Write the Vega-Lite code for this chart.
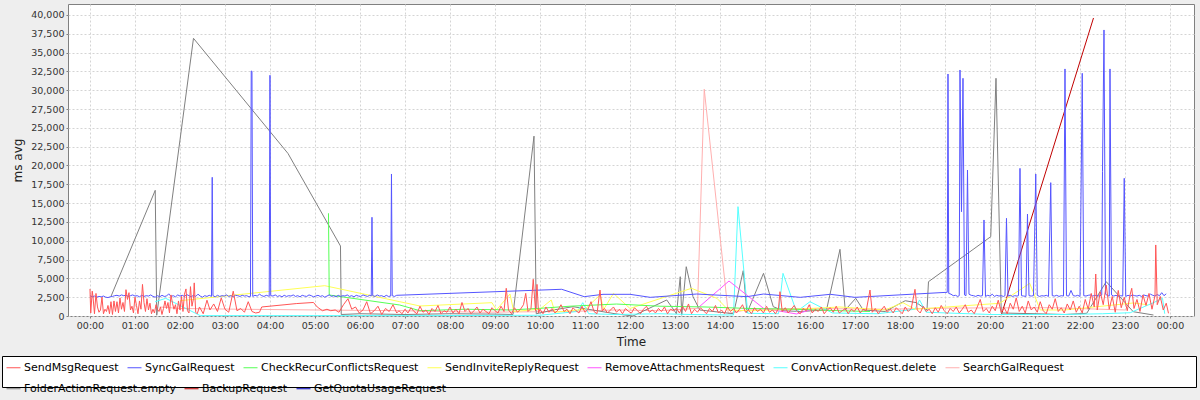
{
  "$schema": "https://vega.github.io/schema/vega-lite/v6.json",
  "width": 1126,
  "height": 312,
  "autosize": {"type": "none"},
  "padding": {"left": 68, "top": 4, "right": 6, "bottom": 84},
  "background": "#eeeeee",
  "config": {
    "font": "DejaVu Sans",
    "view": {"fill": "white", "stroke": "#808080", "strokeWidth": 1},
    "axis": {
      "domain": false,
      "tickSize": 2,
      "tickColor": "#808080",
      "labelFontSize": 9.5,
      "labelColor": "#333333",
      "labelPadding": 2,
      "gridColor": "#d4d4d4",
      "gridDash": [2, 2],
      "titleFontSize": 12,
      "titleFontWeight": "normal",
      "titleColor": "#222222"
    },
    "line": {"strokeWidth": 1}
  },
  "data": {"values": [
    {"s":"SendMsgRequest","t":0,"v":3600},{"s":"SendMsgRequest","t":1,"v":400},{"s":"SendMsgRequest","t":3,"v":3300},{"s":"SendMsgRequest","t":4,"v":2600},{"s":"SendMsgRequest","t":6,"v":300},{"s":"SendMsgRequest","t":8,"v":3000},{"s":"SendMsgRequest","t":10,"v":1200},{"s":"SendMsgRequest","t":12,"v":500},{"s":"SendMsgRequest","t":14,"v":800},{"s":"SendMsgRequest","t":16,"v":2500},{"s":"SendMsgRequest","t":18,"v":300},{"s":"SendMsgRequest","t":20,"v":900},{"s":"SendMsgRequest","t":22,"v":600},{"s":"SendMsgRequest","t":24,"v":1400},{"s":"SendMsgRequest","t":26,"v":300},{"s":"SendMsgRequest","t":28,"v":1900},{"s":"SendMsgRequest","t":30,"v":200},{"s":"SendMsgRequest","t":32,"v":2000},{"s":"SendMsgRequest","t":34,"v":600},{"s":"SendMsgRequest","t":36,"v":1900},{"s":"SendMsgRequest","t":38,"v":400},{"s":"SendMsgRequest","t":40,"v":2400},{"s":"SendMsgRequest","t":42,"v":900},{"s":"SendMsgRequest","t":44,"v":1800},{"s":"SendMsgRequest","t":46,"v":600},{"s":"SendMsgRequest","t":48,"v":3500},{"s":"SendMsgRequest","t":50,"v":2200},{"s":"SendMsgRequest","t":52,"v":3100},{"s":"SendMsgRequest","t":54,"v":800},{"s":"SendMsgRequest","t":56,"v":1300},{"s":"SendMsgRequest","t":58,"v":400},{"s":"SendMsgRequest","t":60,"v":2500},{"s":"SendMsgRequest","t":62,"v":1400},{"s":"SendMsgRequest","t":64,"v":300},{"s":"SendMsgRequest","t":66,"v":2000},{"s":"SendMsgRequest","t":68,"v":900},{"s":"SendMsgRequest","t":70,"v":4200},{"s":"SendMsgRequest","t":72,"v":1800},{"s":"SendMsgRequest","t":74,"v":600},{"s":"SendMsgRequest","t":76,"v":2300},{"s":"SendMsgRequest","t":78,"v":800},{"s":"SendMsgRequest","t":80,"v":1700},{"s":"SendMsgRequest","t":82,"v":300},{"s":"SendMsgRequest","t":84,"v":900},{"s":"SendMsgRequest","t":86,"v":400},{"s":"SendMsgRequest","t":88,"v":1500},{"s":"SendMsgRequest","t":90,"v":900},{"s":"SendMsgRequest","t":92,"v":600},{"s":"SendMsgRequest","t":94,"v":1200},{"s":"SendMsgRequest","t":96,"v":200},{"s":"SendMsgRequest","t":98,"v":1000},{"s":"SendMsgRequest","t":100,"v":2000},{"s":"SendMsgRequest","t":102,"v":1000},{"s":"SendMsgRequest","t":104,"v":1800},{"s":"SendMsgRequest","t":106,"v":400},{"s":"SendMsgRequest","t":108,"v":2800},{"s":"SendMsgRequest","t":110,"v":1700},{"s":"SendMsgRequest","t":112,"v":900},{"s":"SendMsgRequest","t":114,"v":1500},{"s":"SendMsgRequest","t":116,"v":300},{"s":"SendMsgRequest","t":118,"v":2000},{"s":"SendMsgRequest","t":120,"v":800},{"s":"SendMsgRequest","t":122,"v":2600},{"s":"SendMsgRequest","t":124,"v":600},{"s":"SendMsgRequest","t":126,"v":2900},{"s":"SendMsgRequest","t":128,"v":3600},{"s":"SendMsgRequest","t":130,"v":700},{"s":"SendMsgRequest","t":132,"v":400},{"s":"SendMsgRequest","t":134,"v":3900},{"s":"SendMsgRequest","t":136,"v":1300},{"s":"SendMsgRequest","t":138,"v":2300},{"s":"SendMsgRequest","t":139,"v":4400},{"s":"SendMsgRequest","t":141,"v":500},{"s":"SendMsgRequest","t":143,"v":300},{"s":"SendMsgRequest","t":146,"v":1200},
    {"s":"SendMsgRequest","t":151,"v":300},{"s":"SendMsgRequest","t":156,"v":2100},{"s":"SendMsgRequest","t":160,"v":800},{"s":"SendMsgRequest","t":165,"v":1600},{"s":"SendMsgRequest","t":170,"v":600},{"s":"SendMsgRequest","t":175,"v":2400},{"s":"SendMsgRequest","t":180,"v":900},{"s":"SendMsgRequest","t":185,"v":500},{"s":"SendMsgRequest","t":191,"v":3300},{"s":"SendMsgRequest","t":196,"v":700},{"s":"SendMsgRequest","t":201,"v":1000},{"s":"SendMsgRequest","t":206,"v":500},{"s":"SendMsgRequest","t":211,"v":1900},{"s":"SendMsgRequest","t":216,"v":600},{"s":"SendMsgRequest","t":221,"v":400},{"s":"SendMsgRequest","t":226,"v":500},{"s":"SendMsgRequest","t":229,"v":1200},{"s":"SendMsgRequest","t":260,"v":1500},{"s":"SendMsgRequest","t":275,"v":1650},{"s":"SendMsgRequest","t":298,"v":1800},{"s":"SendMsgRequest","t":303,"v":1200},{"s":"SendMsgRequest","t":310,"v":700},{"s":"SendMsgRequest","t":316,"v":900},{"s":"SendMsgRequest","t":321,"v":700},{"s":"SendMsgRequest","t":327,"v":800},{"s":"SendMsgRequest","t":332,"v":500},{"s":"SendMsgRequest","t":338,"v":1500},{"s":"SendMsgRequest","t":344,"v":2300},{"s":"SendMsgRequest","t":349,"v":900},{"s":"SendMsgRequest","t":354,"v":1200},{"s":"SendMsgRequest","t":359,"v":400},{"s":"SendMsgRequest","t":364,"v":800},{"s":"SendMsgRequest","t":369,"v":1900},{"s":"SendMsgRequest","t":374,"v":300},{"s":"SendMsgRequest","t":379,"v":700},{"s":"SendMsgRequest","t":384,"v":1300},{"s":"SendMsgRequest","t":389,"v":200},{"s":"SendMsgRequest","t":394,"v":1000},{"s":"SendMsgRequest","t":399,"v":600},{"s":"SendMsgRequest","t":404,"v":1500},{"s":"SendMsgRequest","t":409,"v":400},
    {"s":"SendMsgRequest","t":412,"v":700},{"s":"SendMsgRequest","t":416,"v":300},{"s":"SendMsgRequest","t":420,"v":900},{"s":"SendMsgRequest","t":424,"v":400},{"s":"SendMsgRequest","t":428,"v":1100},{"s":"SendMsgRequest","t":432,"v":600},{"s":"SendMsgRequest","t":436,"v":300},{"s":"SendMsgRequest","t":440,"v":1300},{"s":"SendMsgRequest","t":444,"v":500},{"s":"SendMsgRequest","t":448,"v":800},{"s":"SendMsgRequest","t":452,"v":200},{"s":"SendMsgRequest","t":456,"v":1000},{"s":"SendMsgRequest","t":460,"v":600},{"s":"SendMsgRequest","t":464,"v":1400},{"s":"SendMsgRequest","t":468,"v":300},{"s":"SendMsgRequest","t":472,"v":700},{"s":"SendMsgRequest","t":476,"v":500},
    {"s":"SendMsgRequest","t":480,"v":1200},{"s":"SendMsgRequest","t":484,"v":400},{"s":"SendMsgRequest","t":488,"v":900},{"s":"SendMsgRequest","t":492,"v":300},{"s":"SendMsgRequest","t":496,"v":1800},{"s":"SendMsgRequest","t":500,"v":600},{"s":"SendMsgRequest","t":504,"v":1000},{"s":"SendMsgRequest","t":508,"v":300},{"s":"SendMsgRequest","t":512,"v":700},{"s":"SendMsgRequest","t":516,"v":1200},{"s":"SendMsgRequest","t":520,"v":400},{"s":"SendMsgRequest","t":524,"v":900},{"s":"SendMsgRequest","t":528,"v":600},{"s":"SendMsgRequest","t":532,"v":300},{"s":"SendMsgRequest","t":536,"v":1100},
    {"s":"SendMsgRequest","t":540,"v":700},{"s":"SendMsgRequest","t":544,"v":400},{"s":"SendMsgRequest","t":548,"v":1300},{"s":"SendMsgRequest","t":552,"v":600},{"s":"SendMsgRequest","t":555,"v":3680},{"s":"SendMsgRequest","t":558,"v":800},{"s":"SendMsgRequest","t":562,"v":300},{"s":"SendMsgRequest","t":566,"v":1100},{"s":"SendMsgRequest","t":570,"v":500},{"s":"SendMsgRequest","t":574,"v":900},{"s":"SendMsgRequest","t":578,"v":1500},{"s":"SendMsgRequest","t":581,"v":3010},{"s":"SendMsgRequest","t":584,"v":600},{"s":"SendMsgRequest","t":588,"v":1000},{"s":"SendMsgRequest","t":591,"v":4880},{"s":"SendMsgRequest","t":594,"v":700},{"s":"SendMsgRequest","t":596,"v":4200},{"s":"SendMsgRequest","t":598,"v":400},
    {"s":"SendMsgRequest","t":600,"v":900},{"s":"SendMsgRequest","t":604,"v":300},{"s":"SendMsgRequest","t":608,"v":1200},{"s":"SendMsgRequest","t":612,"v":500},{"s":"SendMsgRequest","t":616,"v":1000},{"s":"SendMsgRequest","t":620,"v":400},{"s":"SendMsgRequest","t":624,"v":800},{"s":"SendMsgRequest","t":628,"v":1500},{"s":"SendMsgRequest","t":632,"v":600},{"s":"SendMsgRequest","t":636,"v":900},{"s":"SendMsgRequest","t":640,"v":300},{"s":"SendMsgRequest","t":644,"v":1100},{"s":"SendMsgRequest","t":648,"v":700},{"s":"SendMsgRequest","t":652,"v":400},{"s":"SendMsgRequest","t":656,"v":1300},
    {"s":"SendMsgRequest","t":660,"v":500},{"s":"SendMsgRequest","t":664,"v":900},{"s":"SendMsgRequest","t":668,"v":1900},{"s":"SendMsgRequest","t":672,"v":600},{"s":"SendMsgRequest","t":676,"v":300},{"s":"SendMsgRequest","t":680,"v":3450},{"s":"SendMsgRequest","t":683,"v":700},{"s":"SendMsgRequest","t":686,"v":1000},{"s":"SendMsgRequest","t":690,"v":400},{"s":"SendMsgRequest","t":694,"v":800},{"s":"SendMsgRequest","t":698,"v":1200},{"s":"SendMsgRequest","t":702,"v":500},{"s":"SendMsgRequest","t":706,"v":900},{"s":"SendMsgRequest","t":710,"v":300},{"s":"SendMsgRequest","t":714,"v":1000},{"s":"SendMsgRequest","t":718,"v":600},
    {"s":"SendMsgRequest","t":722,"v":400},{"s":"SendMsgRequest","t":726,"v":1100},{"s":"SendMsgRequest","t":730,"v":700},{"s":"SendMsgRequest","t":734,"v":300},{"s":"SendMsgRequest","t":738,"v":900},{"s":"SendMsgRequest","t":742,"v":1300},{"s":"SendMsgRequest","t":746,"v":500},{"s":"SendMsgRequest","t":750,"v":800},{"s":"SendMsgRequest","t":754,"v":400},{"s":"SendMsgRequest","t":758,"v":1000},{"s":"SendMsgRequest","t":762,"v":600},{"s":"SendMsgRequest","t":766,"v":1200},{"s":"SendMsgRequest","t":770,"v":300},{"s":"SendMsgRequest","t":774,"v":900},{"s":"SendMsgRequest","t":778,"v":700},
    {"s":"SendMsgRequest","t":782,"v":1000},{"s":"SendMsgRequest","t":786,"v":400},{"s":"SendMsgRequest","t":790,"v":1300},{"s":"SendMsgRequest","t":794,"v":600},{"s":"SendMsgRequest","t":798,"v":1600},{"s":"SendMsgRequest","t":802,"v":300},{"s":"SendMsgRequest","t":806,"v":900},{"s":"SendMsgRequest","t":810,"v":500},{"s":"SendMsgRequest","t":814,"v":1100},{"s":"SendMsgRequest","t":818,"v":700},{"s":"SendMsgRequest","t":822,"v":300},{"s":"SendMsgRequest","t":826,"v":1000},{"s":"SendMsgRequest","t":830,"v":600},{"s":"SendMsgRequest","t":834,"v":1400},{"s":"SendMsgRequest","t":838,"v":400},
    {"s":"SendMsgRequest","t":842,"v":800},{"s":"SendMsgRequest","t":846,"v":300},{"s":"SendMsgRequest","t":850,"v":1200},{"s":"SendMsgRequest","t":854,"v":600},{"s":"SendMsgRequest","t":858,"v":1000},{"s":"SendMsgRequest","t":862,"v":400},{"s":"SendMsgRequest","t":866,"v":900},{"s":"SendMsgRequest","t":870,"v":1500},{"s":"SendMsgRequest","t":874,"v":500},{"s":"SendMsgRequest","t":878,"v":800},{"s":"SendMsgRequest","t":882,"v":300},{"s":"SendMsgRequest","t":886,"v":1100},{"s":"SendMsgRequest","t":890,"v":600},{"s":"SendMsgRequest","t":894,"v":900},{"s":"SendMsgRequest","t":898,"v":400},
    {"s":"SendMsgRequest","t":902,"v":1300},{"s":"SendMsgRequest","t":906,"v":500},{"s":"SendMsgRequest","t":910,"v":800},{"s":"SendMsgRequest","t":914,"v":300},{"s":"SendMsgRequest","t":918,"v":1000},{"s":"SendMsgRequest","t":920,"v":3230},{"s":"SendMsgRequest","t":923,"v":600},{"s":"SendMsgRequest","t":927,"v":1100},{"s":"SendMsgRequest","t":931,"v":400},{"s":"SendMsgRequest","t":935,"v":900},{"s":"SendMsgRequest","t":939,"v":1400},{"s":"SendMsgRequest","t":943,"v":600},{"s":"SendMsgRequest","t":947,"v":300},{"s":"SendMsgRequest","t":951,"v":1000},{"s":"SendMsgRequest","t":955,"v":700},
    {"s":"SendMsgRequest","t":959,"v":1500},{"s":"SendMsgRequest","t":963,"v":400},{"s":"SendMsgRequest","t":967,"v":900},{"s":"SendMsgRequest","t":971,"v":600},{"s":"SendMsgRequest","t":975,"v":1200},{"s":"SendMsgRequest","t":979,"v":300},{"s":"SendMsgRequest","t":983,"v":800},{"s":"SendMsgRequest","t":987,"v":1100},{"s":"SendMsgRequest","t":991,"v":500},{"s":"SendMsgRequest","t":995,"v":1300},{"s":"SendMsgRequest","t":999,"v":400},{"s":"SendMsgRequest","t":1003,"v":700},{"s":"SendMsgRequest","t":1007,"v":1000},{"s":"SendMsgRequest","t":1011,"v":300},{"s":"SendMsgRequest","t":1015,"v":900},
    {"s":"SendMsgRequest","t":1019,"v":600},{"s":"SendMsgRequest","t":1023,"v":1200},{"s":"SendMsgRequest","t":1027,"v":400},{"s":"SendMsgRequest","t":1031,"v":900},{"s":"SendMsgRequest","t":1035,"v":700},{"s":"SendMsgRequest","t":1040,"v":3450},{"s":"SendMsgRequest","t":1043,"v":500},{"s":"SendMsgRequest","t":1047,"v":1000},{"s":"SendMsgRequest","t":1051,"v":300},{"s":"SendMsgRequest","t":1055,"v":800},{"s":"SendMsgRequest","t":1059,"v":1300},{"s":"SendMsgRequest","t":1063,"v":500},{"s":"SendMsgRequest","t":1067,"v":900},{"s":"SendMsgRequest","t":1071,"v":400},{"s":"SendMsgRequest","t":1075,"v":1100},
    {"s":"SendMsgRequest","t":1079,"v":700},{"s":"SendMsgRequest","t":1083,"v":300},{"s":"SendMsgRequest","t":1087,"v":1200},{"s":"SendMsgRequest","t":1091,"v":600},{"s":"SendMsgRequest","t":1095,"v":1000},{"s":"SendMsgRequest","t":1100,"v":3550},{"s":"SendMsgRequest","t":1103,"v":800},{"s":"SendMsgRequest","t":1107,"v":400},{"s":"SendMsgRequest","t":1111,"v":1300},{"s":"SendMsgRequest","t":1115,"v":600},{"s":"SendMsgRequest","t":1119,"v":900},{"s":"SendMsgRequest","t":1123,"v":300},{"s":"SendMsgRequest","t":1127,"v":1100},{"s":"SendMsgRequest","t":1131,"v":500},{"s":"SendMsgRequest","t":1135,"v":1400},
    {"s":"SendMsgRequest","t":1139,"v":700},{"s":"SendMsgRequest","t":1143,"v":300},{"s":"SendMsgRequest","t":1147,"v":1000},{"s":"SendMsgRequest","t":1151,"v":600},{"s":"SendMsgRequest","t":1155,"v":1200},{"s":"SendMsgRequest","t":1159,"v":400},{"s":"SendMsgRequest","t":1163,"v":900},{"s":"SendMsgRequest","t":1167,"v":1500},{"s":"SendMsgRequest","t":1171,"v":500},{"s":"SendMsgRequest","t":1175,"v":800},{"s":"SendMsgRequest","t":1179,"v":300},{"s":"SendMsgRequest","t":1183,"v":1200},{"s":"SendMsgRequest","t":1187,"v":2200},{"s":"SendMsgRequest","t":1191,"v":600},{"s":"SendMsgRequest","t":1195,"v":1000},
    {"s":"SendMsgRequest","t":1199,"v":400},{"s":"SendMsgRequest","t":1203,"v":1300},{"s":"SendMsgRequest","t":1207,"v":700},{"s":"SendMsgRequest","t":1211,"v":2100},{"s":"SendMsgRequest","t":1215,"v":500},{"s":"SendMsgRequest","t":1219,"v":1100},{"s":"SendMsgRequest","t":1223,"v":300},{"s":"SendMsgRequest","t":1227,"v":1700},{"s":"SendMsgRequest","t":1231,"v":900},{"s":"SendMsgRequest","t":1235,"v":2400},{"s":"SendMsgRequest","t":1239,"v":600},{"s":"SendMsgRequest","t":1243,"v":1300},{"s":"SendMsgRequest","t":1247,"v":400},{"s":"SendMsgRequest","t":1251,"v":2000},{"s":"SendMsgRequest","t":1255,"v":800},
    {"s":"SendMsgRequest","t":1259,"v":1200},{"s":"SendMsgRequest","t":1263,"v":500},{"s":"SendMsgRequest","t":1267,"v":1900},{"s":"SendMsgRequest","t":1271,"v":700},{"s":"SendMsgRequest","t":1275,"v":300},{"s":"SendMsgRequest","t":1279,"v":1500},{"s":"SendMsgRequest","t":1283,"v":900},{"s":"SendMsgRequest","t":1287,"v":2300},{"s":"SendMsgRequest","t":1291,"v":600},{"s":"SendMsgRequest","t":1295,"v":1100},{"s":"SendMsgRequest","t":1299,"v":400},{"s":"SendMsgRequest","t":1303,"v":1600},{"s":"SendMsgRequest","t":1307,"v":800},{"s":"SendMsgRequest","t":1311,"v":2000},{"s":"SendMsgRequest","t":1315,"v":500},
    {"s":"SendMsgRequest","t":1319,"v":1300},{"s":"SendMsgRequest","t":1323,"v":400},{"s":"SendMsgRequest","t":1327,"v":2200},{"s":"SendMsgRequest","t":1331,"v":900},{"s":"SendMsgRequest","t":1335,"v":3000},{"s":"SendMsgRequest","t":1339,"v":1200},{"s":"SendMsgRequest","t":1341,"v":5580},{"s":"SendMsgRequest","t":1343,"v":800},{"s":"SendMsgRequest","t":1347,"v":3200},{"s":"SendMsgRequest","t":1351,"v":1500},{"s":"SendMsgRequest","t":1355,"v":4100},{"s":"SendMsgRequest","t":1359,"v":900},{"s":"SendMsgRequest","t":1363,"v":2600},{"s":"SendMsgRequest","t":1367,"v":500},{"s":"SendMsgRequest","t":1371,"v":3400},{"s":"SendMsgRequest","t":1375,"v":1100},
    {"s":"SendMsgRequest","t":1379,"v":2500},{"s":"SendMsgRequest","t":1383,"v":700},{"s":"SendMsgRequest","t":1387,"v":2900},{"s":"SendMsgRequest","t":1389,"v":3680},{"s":"SendMsgRequest","t":1392,"v":1000},{"s":"SendMsgRequest","t":1396,"v":2200},{"s":"SendMsgRequest","t":1400,"v":600},{"s":"SendMsgRequest","t":1404,"v":2800},{"s":"SendMsgRequest","t":1408,"v":1400},{"s":"SendMsgRequest","t":1412,"v":3000},{"s":"SendMsgRequest","t":1416,"v":900},{"s":"SendMsgRequest","t":1420,"v":2700},{"s":"SendMsgRequest","t":1421,"v":9440},{"s":"SendMsgRequest","t":1423,"v":1500},{"s":"SendMsgRequest","t":1427,"v":2600},{"s":"SendMsgRequest","t":1431,"v":800},{"s":"SendMsgRequest","t":1435,"v":1700},{"s":"SendMsgRequest","t":1438,"v":360},

    {"s":"SyncGalRequest","t":0,"v":2700},{"s":"SyncGalRequest","t":3,"v":2550},{"s":"SyncGalRequest","t":6,"v":2650},{"s":"SyncGalRequest","t":9,"v":2500},{"s":"SyncGalRequest","t":12,"v":2600},{"s":"SyncGalRequest","t":15,"v":2550},{"s":"SyncGalRequest","t":18,"v":2650},{"s":"SyncGalRequest","t":21,"v":2500},{"s":"SyncGalRequest","t":24,"v":2450},{"s":"SyncGalRequest","t":27,"v":2550},{"s":"SyncGalRequest","t":30,"v":2600},{"s":"SyncGalRequest","t":33,"v":2700},{"s":"SyncGalRequest","t":36,"v":2750},{"s":"SyncGalRequest","t":39,"v":2650},{"s":"SyncGalRequest","t":42,"v":2800},{"s":"SyncGalRequest","t":45,"v":2700},{"s":"SyncGalRequest","t":48,"v":2750},{"s":"SyncGalRequest","t":51,"v":2600},{"s":"SyncGalRequest","t":54,"v":2700},{"s":"SyncGalRequest","t":57,"v":2800},{"s":"SyncGalRequest","t":60,"v":2650},{"s":"SyncGalRequest","t":63,"v":2700},{"s":"SyncGalRequest","t":66,"v":2550},{"s":"SyncGalRequest","t":69,"v":2750},{"s":"SyncGalRequest","t":72,"v":2600},{"s":"SyncGalRequest","t":75,"v":2700},{"s":"SyncGalRequest","t":78,"v":2650},{"s":"SyncGalRequest","t":81,"v":2800},{"s":"SyncGalRequest","t":84,"v":2600},{"s":"SyncGalRequest","t":87,"v":2500},{"s":"SyncGalRequest","t":90,"v":2700},{"s":"SyncGalRequest","t":93,"v":2550},{"s":"SyncGalRequest","t":96,"v":2750},{"s":"SyncGalRequest","t":99,"v":2600},{"s":"SyncGalRequest","t":102,"v":2650},{"s":"SyncGalRequest","t":105,"v":2950},{"s":"SyncGalRequest","t":108,"v":2600},{"s":"SyncGalRequest","t":111,"v":2700},{"s":"SyncGalRequest","t":114,"v":2550},{"s":"SyncGalRequest","t":117,"v":2800},{"s":"SyncGalRequest","t":120,"v":2650},{"s":"SyncGalRequest","t":123,"v":2750},{"s":"SyncGalRequest","t":126,"v":2600},{"s":"SyncGalRequest","t":129,"v":2850},{"s":"SyncGalRequest","t":132,"v":2700},{"s":"SyncGalRequest","t":135,"v":2550},{"s":"SyncGalRequest","t":138,"v":2750},{"s":"SyncGalRequest","t":141,"v":2600},{"s":"SyncGalRequest","t":144,"v":2900},{"s":"SyncGalRequest","t":147,"v":2650},{"s":"SyncGalRequest","t":150,"v":2500},{"s":"SyncGalRequest","t":153,"v":2700},{"s":"SyncGalRequest","t":156,"v":2600},{"s":"SyncGalRequest","t":159,"v":2750},{"s":"SyncGalRequest","t":162,"v":2600},{"s":"SyncGalRequest","t":163,"v":18430},{"s":"SyncGalRequest","t":164,"v":2700},{"s":"SyncGalRequest","t":167,"v":2550},{"s":"SyncGalRequest","t":170,"v":2750},{"s":"SyncGalRequest","t":173,"v":2600},{"s":"SyncGalRequest","t":176,"v":2700},{"s":"SyncGalRequest","t":179,"v":2650},{"s":"SyncGalRequest","t":182,"v":2800},{"s":"SyncGalRequest","t":185,"v":2600},{"s":"SyncGalRequest","t":188,"v":2700},{"s":"SyncGalRequest","t":191,"v":2550},{"s":"SyncGalRequest","t":194,"v":2750},{"s":"SyncGalRequest","t":197,"v":2700},{"s":"SyncGalRequest","t":200,"v":2600},{"s":"SyncGalRequest","t":203,"v":2750},{"s":"SyncGalRequest","t":206,"v":2650},{"s":"SyncGalRequest","t":209,"v":2700},{"s":"SyncGalRequest","t":212,"v":2550},{"s":"SyncGalRequest","t":214,"v":2600},{"s":"SyncGalRequest","t":215,"v":32560},{"s":"SyncGalRequest","t":216,"v":32500},{"s":"SyncGalRequest","t":217,"v":2600},{"s":"SyncGalRequest","t":220,"v":2750},{"s":"SyncGalRequest","t":223,"v":2650},{"s":"SyncGalRequest","t":226,"v":2900},{"s":"SyncGalRequest","t":229,"v":2700},{"s":"SyncGalRequest","t":232,"v":2600},{"s":"SyncGalRequest","t":235,"v":2750},{"s":"SyncGalRequest","t":238,"v":2650},{"s":"SyncGalRequest","t":239,"v":2600},{"s":"SyncGalRequest","t":240,"v":31990},{"s":"SyncGalRequest","t":241,"v":2700},{"s":"SyncGalRequest","t":244,"v":2650},{"s":"SyncGalRequest","t":247,"v":2800},{"s":"SyncGalRequest","t":250,"v":2600},{"s":"SyncGalRequest","t":253,"v":2700},{"s":"SyncGalRequest","t":256,"v":2550},{"s":"SyncGalRequest","t":259,"v":2750},{"s":"SyncGalRequest","t":262,"v":2600},{"s":"SyncGalRequest","t":265,"v":2700},{"s":"SyncGalRequest","t":268,"v":2650},{"s":"SyncGalRequest","t":271,"v":2800},{"s":"SyncGalRequest","t":274,"v":2600},{"s":"SyncGalRequest","t":277,"v":2700},{"s":"SyncGalRequest","t":280,"v":2550},{"s":"SyncGalRequest","t":283,"v":2750},{"s":"SyncGalRequest","t":286,"v":2650},{"s":"SyncGalRequest","t":289,"v":2600},{"s":"SyncGalRequest","t":292,"v":2800},{"s":"SyncGalRequest","t":295,"v":2700},{"s":"SyncGalRequest","t":298,"v":2550},{"s":"SyncGalRequest","t":301,"v":2650},{"s":"SyncGalRequest","t":304,"v":2750},{"s":"SyncGalRequest","t":307,"v":2600},{"s":"SyncGalRequest","t":310,"v":2700},{"s":"SyncGalRequest","t":313,"v":2500},{"s":"SyncGalRequest","t":316,"v":2650},{"s":"SyncGalRequest","t":319,"v":2800},{"s":"SyncGalRequest","t":322,"v":2600},{"s":"SyncGalRequest","t":325,"v":2700},{"s":"SyncGalRequest","t":328,"v":2550},{"s":"SyncGalRequest","t":331,"v":2750},{"s":"SyncGalRequest","t":334,"v":2600},{"s":"SyncGalRequest","t":337,"v":2700},{"s":"SyncGalRequest","t":340,"v":2650},{"s":"SyncGalRequest","t":343,"v":2800},{"s":"SyncGalRequest","t":346,"v":2600},{"s":"SyncGalRequest","t":349,"v":2700},{"s":"SyncGalRequest","t":352,"v":2550},{"s":"SyncGalRequest","t":355,"v":2750},{"s":"SyncGalRequest","t":358,"v":2650},{"s":"SyncGalRequest","t":361,"v":2600},{"s":"SyncGalRequest","t":364,"v":2800},{"s":"SyncGalRequest","t":367,"v":2700},{"s":"SyncGalRequest","t":370,"v":2600},{"s":"SyncGalRequest","t":373,"v":2750},{"s":"SyncGalRequest","t":375,"v":2650},{"s":"SyncGalRequest","t":376,"v":13120},{"s":"SyncGalRequest","t":377,"v":2700},{"s":"SyncGalRequest","t":380,"v":2600},{"s":"SyncGalRequest","t":383,"v":2800},{"s":"SyncGalRequest","t":386,"v":2650},{"s":"SyncGalRequest","t":389,"v":2700},{"s":"SyncGalRequest","t":392,"v":2550},{"s":"SyncGalRequest","t":395,"v":2750},{"s":"SyncGalRequest","t":398,"v":2600},{"s":"SyncGalRequest","t":401,"v":2650},{"s":"SyncGalRequest","t":402,"v":18870},{"s":"SyncGalRequest","t":403,"v":2700},{"s":"SyncGalRequest","t":406,"v":2600},{"s":"SyncGalRequest","t":409,"v":2750},
    {"s":"SyncGalRequest","t":420,"v":2790},{"s":"SyncGalRequest","t":629,"v":3550},{"s":"SyncGalRequest","t":659,"v":2570},{"s":"SyncGalRequest","t":684,"v":2880},{"s":"SyncGalRequest","t":720,"v":2880},{"s":"SyncGalRequest","t":747,"v":2480},{"s":"SyncGalRequest","t":809,"v":2920},{"s":"SyncGalRequest","t":876,"v":2570},{"s":"SyncGalRequest","t":898,"v":2920},{"s":"SyncGalRequest","t":947,"v":2480},{"s":"SyncGalRequest","t":987,"v":2880},{"s":"SyncGalRequest","t":1020,"v":2480},{"s":"SyncGalRequest","t":1143,"v":3150},{"s":"SyncGalRequest","t":1144,"v":32160},{"s":"SyncGalRequest","t":1145,"v":3000},
    {"s":"SyncGalRequest","t":1148,"v":2900},{"s":"SyncGalRequest","t":1151,"v":2700},{"s":"SyncGalRequest","t":1154,"v":2750},{"s":"SyncGalRequest","t":1157,"v":2600},{"s":"SyncGalRequest","t":1159,"v":2700},{"s":"SyncGalRequest","t":1160,"v":32690},{"s":"SyncGalRequest","t":1162,"v":13860},{"s":"SyncGalRequest","t":1164,"v":31590},{"s":"SyncGalRequest","t":1166,"v":2800},{"s":"SyncGalRequest","t":1168,"v":2700},{"s":"SyncGalRequest","t":1170,"v":19400},{"s":"SyncGalRequest","t":1172,"v":2900},{"s":"SyncGalRequest","t":1175,"v":2750},{"s":"SyncGalRequest","t":1178,"v":2700},{"s":"SyncGalRequest","t":1181,"v":2600},{"s":"SyncGalRequest","t":1184,"v":2750},{"s":"SyncGalRequest","t":1187,"v":2650},{"s":"SyncGalRequest","t":1190,"v":2700},{"s":"SyncGalRequest","t":1192,"v":12760},{"s":"SyncGalRequest","t":1194,"v":2600},{"s":"SyncGalRequest","t":1197,"v":2750},{"s":"SyncGalRequest","t":1200,"v":2650},{"s":"SyncGalRequest","t":1203,"v":2900},{"s":"SyncGalRequest","t":1206,"v":2600},{"s":"SyncGalRequest","t":1209,"v":2750},{"s":"SyncGalRequest","t":1212,"v":2650},{"s":"SyncGalRequest","t":1215,"v":2700},{"s":"SyncGalRequest","t":1218,"v":2600},{"s":"SyncGalRequest","t":1220,"v":2700},{"s":"SyncGalRequest","t":1222,"v":12980},{"s":"SyncGalRequest","t":1224,"v":2650},{"s":"SyncGalRequest","t":1227,"v":2750},{"s":"SyncGalRequest","t":1230,"v":2600},{"s":"SyncGalRequest","t":1233,"v":2700},{"s":"SyncGalRequest","t":1236,"v":2650},{"s":"SyncGalRequest","t":1238,"v":2700},{"s":"SyncGalRequest","t":1240,"v":19620},{"s":"SyncGalRequest","t":1242,"v":2700},{"s":"SyncGalRequest","t":1245,"v":2650},{"s":"SyncGalRequest","t":1248,"v":2600},{"s":"SyncGalRequest","t":1250,"v":13550},{"s":"SyncGalRequest","t":1252,"v":2700},{"s":"SyncGalRequest","t":1255,"v":2650},{"s":"SyncGalRequest","t":1258,"v":2700},{"s":"SyncGalRequest","t":1261,"v":18870},{"s":"SyncGalRequest","t":1263,"v":2750},{"s":"SyncGalRequest","t":1266,"v":2600},{"s":"SyncGalRequest","t":1269,"v":2700},{"s":"SyncGalRequest","t":1272,"v":2650},{"s":"SyncGalRequest","t":1275,"v":2750},{"s":"SyncGalRequest","t":1278,"v":2600},{"s":"SyncGalRequest","t":1281,"v":17720},{"s":"SyncGalRequest","t":1283,"v":2700},{"s":"SyncGalRequest","t":1286,"v":2650},{"s":"SyncGalRequest","t":1289,"v":2750},{"s":"SyncGalRequest","t":1292,"v":2600},{"s":"SyncGalRequest","t":1295,"v":2700},{"s":"SyncGalRequest","t":1298,"v":2650},{"s":"SyncGalRequest","t":1300,"v":32830},{"s":"SyncGalRequest","t":1302,"v":2700},{"s":"SyncGalRequest","t":1305,"v":2650},{"s":"SyncGalRequest","t":1308,"v":3400},{"s":"SyncGalRequest","t":1311,"v":2700},{"s":"SyncGalRequest","t":1314,"v":2650},{"s":"SyncGalRequest","t":1317,"v":2750},{"s":"SyncGalRequest","t":1320,"v":2600},{"s":"SyncGalRequest","t":1323,"v":32250},{"s":"SyncGalRequest","t":1325,"v":2700},{"s":"SyncGalRequest","t":1328,"v":2650},{"s":"SyncGalRequest","t":1331,"v":2750},{"s":"SyncGalRequest","t":1334,"v":2800},{"s":"SyncGalRequest","t":1337,"v":2650},{"s":"SyncGalRequest","t":1340,"v":2750},{"s":"SyncGalRequest","t":1343,"v":2700},{"s":"SyncGalRequest","t":1346,"v":2650},{"s":"SyncGalRequest","t":1349,"v":2800},{"s":"SyncGalRequest","t":1350,"v":19180},{"s":"SyncGalRequest","t":1352,"v":38010},{"s":"SyncGalRequest","t":1354,"v":2900},{"s":"SyncGalRequest","t":1357,"v":2700},{"s":"SyncGalRequest","t":1359,"v":2650},{"s":"SyncGalRequest","t":1360,"v":32830},{"s":"SyncGalRequest","t":1362,"v":2800},{"s":"SyncGalRequest","t":1365,"v":2650},{"s":"SyncGalRequest","t":1368,"v":2750},{"s":"SyncGalRequest","t":1371,"v":2600},{"s":"SyncGalRequest","t":1374,"v":2700},{"s":"SyncGalRequest","t":1377,"v":2650},{"s":"SyncGalRequest","t":1379,"v":18300},{"s":"SyncGalRequest","t":1381,"v":2600},{"s":"SyncGalRequest","t":1384,"v":2750},{"s":"SyncGalRequest","t":1387,"v":2650},{"s":"SyncGalRequest","t":1390,"v":2800},{"s":"SyncGalRequest","t":1393,"v":2700},{"s":"SyncGalRequest","t":1396,"v":2650},{"s":"SyncGalRequest","t":1399,"v":2750},{"s":"SyncGalRequest","t":1402,"v":2600},{"s":"SyncGalRequest","t":1405,"v":2800},{"s":"SyncGalRequest","t":1408,"v":2700},{"s":"SyncGalRequest","t":1411,"v":2650},{"s":"SyncGalRequest","t":1414,"v":2900},{"s":"SyncGalRequest","t":1417,"v":2750},{"s":"SyncGalRequest","t":1420,"v":2650},{"s":"SyncGalRequest","t":1423,"v":2850},{"s":"SyncGalRequest","t":1426,"v":2700},{"s":"SyncGalRequest","t":1429,"v":3100},{"s":"SyncGalRequest","t":1432,"v":2700},{"s":"SyncGalRequest","t":1435,"v":2950},

    {"s":"CheckRecurConflictsRequest","t":318,"v":13650},{"s":"CheckRecurConflictsRequest","t":319,"v":2790},{"s":"CheckRecurConflictsRequest","t":413,"v":1460},{"s":"CheckRecurConflictsRequest","t":440,"v":700},{"s":"CheckRecurConflictsRequest","t":500,"v":900},{"s":"CheckRecurConflictsRequest","t":560,"v":800},{"s":"CheckRecurConflictsRequest","t":600,"v":1020},{"s":"CheckRecurConflictsRequest","t":640,"v":1300},{"s":"CheckRecurConflictsRequest","t":702,"v":1590},{"s":"CheckRecurConflictsRequest","t":760,"v":1300},{"s":"CheckRecurConflictsRequest","t":820,"v":1200},{"s":"CheckRecurConflictsRequest","t":880,"v":1000},{"s":"CheckRecurConflictsRequest","t":940,"v":900},{"s":"CheckRecurConflictsRequest","t":1000,"v":700},{"s":"CheckRecurConflictsRequest","t":1040,"v":600},

    {"s":"SendInviteReplyRequest","t":120,"v":2030},{"s":"SendInviteReplyRequest","t":313,"v":4030},{"s":"SendInviteReplyRequest","t":413,"v":1900},{"s":"SendInviteReplyRequest","t":440,"v":1330},{"s":"SendInviteReplyRequest","t":536,"v":1770},{"s":"SendInviteReplyRequest","t":542,"v":800},{"s":"SendInviteReplyRequest","t":560,"v":2920},{"s":"SendInviteReplyRequest","t":565,"v":600},{"s":"SendInviteReplyRequest","t":600,"v":900},{"s":"SendInviteReplyRequest","t":615,"v":2130},{"s":"SendInviteReplyRequest","t":620,"v":500},{"s":"SendInviteReplyRequest","t":660,"v":900},{"s":"SendInviteReplyRequest","t":680,"v":2790},{"s":"SendInviteReplyRequest","t":685,"v":900},{"s":"SendInviteReplyRequest","t":698,"v":3010},{"s":"SendInviteReplyRequest","t":720,"v":1000},{"s":"SendInviteReplyRequest","t":802,"v":3680},{"s":"SendInviteReplyRequest","t":836,"v":2350},{"s":"SendInviteReplyRequest","t":851,"v":800},{"s":"SendInviteReplyRequest","t":880,"v":700},{"s":"SendInviteReplyRequest","t":940,"v":900},{"s":"SendInviteReplyRequest","t":1000,"v":1200},{"s":"SendInviteReplyRequest","t":1060,"v":800},{"s":"SendInviteReplyRequest","t":1084,"v":1770},{"s":"SendInviteReplyRequest","t":1100,"v":900},{"s":"SendInviteReplyRequest","t":1213,"v":1690},{"s":"SendInviteReplyRequest","t":1253,"v":4340},{"s":"SendInviteReplyRequest","t":1267,"v":800},{"s":"SendInviteReplyRequest","t":1300,"v":800},{"s":"SendInviteReplyRequest","t":1391,"v":1730},{"s":"SendInviteReplyRequest","t":1410,"v":1500},

    {"s":"RemoveAttachmentsRequest","t":810,"v":1020},{"s":"RemoveAttachmentsRequest","t":852,"v":4650},{"s":"RemoveAttachmentsRequest","t":898,"v":1020},{"s":"RemoveAttachmentsRequest","t":942,"v":270},{"s":"RemoveAttachmentsRequest","t":960,"v":800},

    {"s":"ConvActionRequest.delete","t":87,"v":1900},{"s":"ConvActionRequest.delete","t":101,"v":2350},{"s":"ConvActionRequest.delete","t":147,"v":50},{"s":"ConvActionRequest.delete","t":300,"v":50},{"s":"ConvActionRequest.delete","t":450,"v":50},{"s":"ConvActionRequest.delete","t":600,"v":100},{"s":"ConvActionRequest.delete","t":650,"v":600},{"s":"ConvActionRequest.delete","t":657,"v":1770},{"s":"ConvActionRequest.delete","t":665,"v":300},{"s":"ConvActionRequest.delete","t":700,"v":200},{"s":"ConvActionRequest.delete","t":760,"v":300},{"s":"ConvActionRequest.delete","t":800,"v":200},{"s":"ConvActionRequest.delete","t":858,"v":130},{"s":"ConvActionRequest.delete","t":864,"v":14530},{"s":"ConvActionRequest.delete","t":877,"v":360},{"s":"ConvActionRequest.delete","t":918,"v":300},{"s":"ConvActionRequest.delete","t":924,"v":5670},{"s":"ConvActionRequest.delete","t":942,"v":570},{"s":"ConvActionRequest.delete","t":960,"v":1900},{"s":"ConvActionRequest.delete","t":990,"v":400},{"s":"ConvActionRequest.delete","t":1050,"v":300},{"s":"ConvActionRequest.delete","t":1100,"v":900},{"s":"ConvActionRequest.delete","t":1106,"v":2130},{"s":"ConvActionRequest.delete","t":1115,"v":500},{"s":"ConvActionRequest.delete","t":1200,"v":200},{"s":"ConvActionRequest.delete","t":1300,"v":200},{"s":"ConvActionRequest.delete","t":1350,"v":300},{"s":"ConvActionRequest.delete","t":1387,"v":440},{"s":"ConvActionRequest.delete","t":1418,"v":1770},{"s":"ConvActionRequest.delete","t":1430,"v":2350},{"s":"ConvActionRequest.delete","t":1433,"v":300},

    {"s":"SearchGalRequest","t":93,"v":1200},{"s":"SearchGalRequest","t":120,"v":1000},{"s":"SearchGalRequest","t":200,"v":900},{"s":"SearchGalRequest","t":300,"v":800},{"s":"SearchGalRequest","t":420,"v":700},{"s":"SearchGalRequest","t":520,"v":500},{"s":"SearchGalRequest","t":640,"v":600},{"s":"SearchGalRequest","t":700,"v":800},{"s":"SearchGalRequest","t":760,"v":700},{"s":"SearchGalRequest","t":810,"v":1020},{"s":"SearchGalRequest","t":819,"v":30130},{"s":"SearchGalRequest","t":851,"v":360},{"s":"SearchGalRequest","t":880,"v":900},{"s":"SearchGalRequest","t":960,"v":1000},{"s":"SearchGalRequest","t":1060,"v":900},{"s":"SearchGalRequest","t":1150,"v":1060},{"s":"SearchGalRequest","t":1285,"v":1100},{"s":"SearchGalRequest","t":1380,"v":800},

    {"s":"FolderActionRequest.empty","t":28,"v":2600},{"s":"FolderActionRequest.empty","t":87,"v":16700},{"s":"FolderActionRequest.empty","t":89,"v":100},{"s":"FolderActionRequest.empty","t":138,"v":36900},{"s":"FolderActionRequest.empty","t":264,"v":21600},{"s":"FolderActionRequest.empty","t":334,"v":9300},{"s":"FolderActionRequest.empty","t":335,"v":200},{"s":"FolderActionRequest.empty","t":360,"v":300},{"s":"FolderActionRequest.empty","t":420,"v":200},{"s":"FolderActionRequest.empty","t":480,"v":300},{"s":"FolderActionRequest.empty","t":540,"v":250},{"s":"FolderActionRequest.empty","t":564,"v":200},{"s":"FolderActionRequest.empty","t":592,"v":23900},{"s":"FolderActionRequest.empty","t":595,"v":300},{"s":"FolderActionRequest.empty","t":618,"v":800},{"s":"FolderActionRequest.empty","t":644,"v":1240},{"s":"FolderActionRequest.empty","t":700,"v":300},{"s":"FolderActionRequest.empty","t":724,"v":0},{"s":"FolderActionRequest.empty","t":769,"v":2130},{"s":"FolderActionRequest.empty","t":782,"v":300},{"s":"FolderActionRequest.empty","t":787,"v":5220},{"s":"FolderActionRequest.empty","t":789,"v":100},{"s":"FolderActionRequest.empty","t":795,"v":6550},{"s":"FolderActionRequest.empty","t":804,"v":2570},{"s":"FolderActionRequest.empty","t":813,"v":800},{"s":"FolderActionRequest.empty","t":840,"v":500},{"s":"FolderActionRequest.empty","t":858,"v":300},{"s":"FolderActionRequest.empty","t":871,"v":6020},{"s":"FolderActionRequest.empty","t":876,"v":400},{"s":"FolderActionRequest.empty","t":898,"v":5670},{"s":"FolderActionRequest.empty","t":911,"v":1240},{"s":"FolderActionRequest.empty","t":924,"v":700},{"s":"FolderActionRequest.empty","t":947,"v":600},{"s":"FolderActionRequest.empty","t":982,"v":800},{"s":"FolderActionRequest.empty","t":1000,"v":8860},{"s":"FolderActionRequest.empty","t":1007,"v":800},{"s":"FolderActionRequest.empty","t":1021,"v":2350},{"s":"FolderActionRequest.empty","t":1031,"v":800},{"s":"FolderActionRequest.empty","t":1060,"v":600},{"s":"FolderActionRequest.empty","t":1087,"v":2030},{"s":"FolderActionRequest.empty","t":1102,"v":1770},{"s":"FolderActionRequest.empty","t":1116,"v":800},{"s":"FolderActionRequest.empty","t":1118,"v":4560},{"s":"FolderActionRequest.empty","t":1201,"v":10540},{"s":"FolderActionRequest.empty","t":1208,"v":31590},{"s":"FolderActionRequest.empty","t":1215,"v":400},{"s":"FolderActionRequest.empty","t":1260,"v":300},{"s":"FolderActionRequest.empty","t":1300,"v":200},{"s":"FolderActionRequest.empty","t":1329,"v":360},{"s":"FolderActionRequest.empty","t":1355,"v":4560},{"s":"FolderActionRequest.empty","t":1391,"v":570},{"s":"FolderActionRequest.empty","t":1418,"v":130},

    {"s":"BackupRequest","t":1215,"v":100},{"s":"BackupRequest","t":1338,"v":39600},

    {"s":"GetQuotaUsageRequest","t":720,"v":200}
  ]},
  "encoding": {
    "x": {
      "field": "t",
      "type": "quantitative",
      "scale": {"domain": [-29.3, 1472], "nice": false, "zero": false},
      "axis": {
        "title": "Time",
        "values": [0,60,120,180,240,300,360,420,480,540,600,660,720,780,840,900,960,1020,1080,1140,1200,1260,1320,1380,1440],
        "labelExpr": "timeFormat(datetime(2000, 0, 1, 0, datum.value), '%H:%M')",
        "titlePadding": 7
      }
    },
    "y": {
      "field": "v",
      "type": "quantitative",
      "scale": {"domain": [0, 41460], "nice": false},
      "axis": {
        "title": "ms avg",
        "values": [0,2500,5000,7500,10000,12500,15000,17500,20000,22500,25000,27500,30000,32500,35000,37500,40000],
        "format": ",.0f",
        "titlePadding": 6
      }
    }
  },
  "layer": [
    {
      "transform": [{"filter": "datum.s == 'SearchGalRequest'"}],
      "mark": "line",
      "encoding": {
        "color": {
          "field": "s",
          "type": "nominal",
          "scale": {
            "domain": ["SendMsgRequest", "SyncGalRequest", "CheckRecurConflictsRequest", "SendInviteReplyRequest", "RemoveAttachmentsRequest", "ConvActionRequest.delete", "SearchGalRequest"],
            "range": ["#ff5555", "#5555ff", "#55ff55", "#ffff55", "#ff55ff", "#55ffff", "#ffafaf"]
          },
          "legend": {
            "orient": "none",
            "legendX": -66,
            "legendY": 352,
            "direction": "horizontal",
            "title": " ",
            "titleOrient": "right",
            "titleFontSize": 33,
            "titlePadding": 128,
            "strokeColor": "#000000",
            "fillColor": "#ffffff",
            "padding": 4,
            "symbolType": "stroke",
            "symbolSize": 196,
            "symbolStrokeWidth": 1.5,
            "labelFontSize": 11,
            "labelColor": "#000000",
            "labelOffset": 3,
            "labelLimit": 800,
            "columnPadding": 6
          }
        }
      }
    },
    {
      "encoding": {
        "stroke": {
          "field": "s",
          "type": "nominal",
          "scale": {
            "domain": ["FolderActionRequest.empty", "BackupRequest", "GetQuotaUsageRequest"],
            "range": ["#808080", "#c00000", "#0000c0"]
          },
          "legend": {
            "orient": "none",
            "legendX": -62,
            "legendY": 377,
            "direction": "horizontal",
            "title": null,
            "padding": 0,
            "symbolType": "stroke",
            "symbolSize": 196,
            "symbolStrokeWidth": 1.5,
            "labelFontSize": 11,
            "labelColor": "#000000",
            "labelOffset": 3,
            "labelLimit": 600,
            "columnPadding": 6
          }
        }
      },
      "layer": [
        {"transform": [{"filter": "datum.s == 'GetQuotaUsageRequest'"}], "mark": "line"},
        {"transform": [{"filter": "datum.s == 'BackupRequest'"}], "mark": "line"},
        {"transform": [{"filter": "datum.s == 'FolderActionRequest.empty'"}], "mark": "line"}
      ]
    },
    {
      "encoding": {
        "color": {
          "field": "s",
          "type": "nominal",
          "scale": {
            "domain": ["SendMsgRequest", "SyncGalRequest", "CheckRecurConflictsRequest", "SendInviteReplyRequest", "RemoveAttachmentsRequest", "ConvActionRequest.delete", "SearchGalRequest"],
            "range": ["#ff5555", "#5555ff", "#55ff55", "#ffff55", "#ff55ff", "#55ffff", "#ffafaf"]
          }
        }
      },
      "layer": [
        {"transform": [{"filter": "datum.s == 'ConvActionRequest.delete'"}], "mark": "line"},
        {"transform": [{"filter": "datum.s == 'RemoveAttachmentsRequest'"}], "mark": "line"},
        {"transform": [{"filter": "datum.s == 'SendInviteReplyRequest'"}], "mark": "line"},
        {"transform": [{"filter": "datum.s == 'CheckRecurConflictsRequest'"}], "mark": "line"},
        {"transform": [{"filter": "datum.s == 'SyncGalRequest'"}], "mark": "line"},
        {"transform": [{"filter": "datum.s == 'SendMsgRequest'"}], "mark": "line"}
      ]
    }
  ]
}
